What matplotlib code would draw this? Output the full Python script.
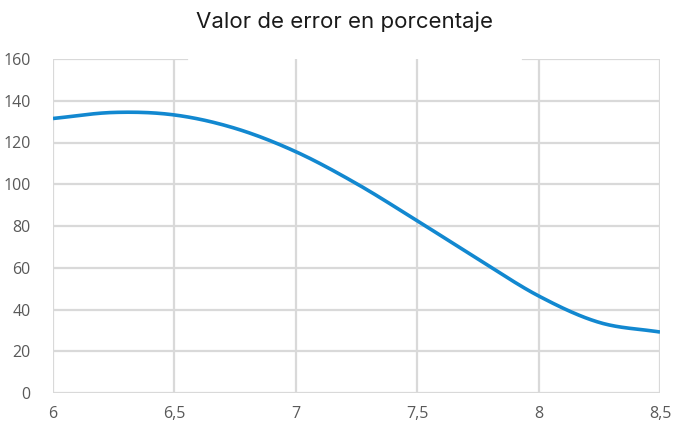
import numpy as np
import matplotlib
matplotlib.use("Agg")
import matplotlib.pyplot as plt

# Data
x_vals = [6.0, 6.25, 6.5, 6.75, 7.0, 7.25, 7.5, 7.75, 8.0, 8.25, 8.5]
y_vals = [131.5, 134.4, 133.2, 126.8, 115.6, 100.3, 82.5, 64.2, 46.5, 33.8, 29.2]
x_ticks = [6, 6.5, 7, 7.5, 8, 8.5]
x_tick_labels = ["6", "6,5", "7", "7,5", "8", "8,5"]
y_ticks = [0, 20, 40, 60, 80, 100, 120, 140, 160]
title = "Valor de error en porcentaje"


def catmull_rom(xs, ys, n=30):
    xs = np.asarray(xs, float)
    ys = np.asarray(ys, float)
    px = np.concatenate([[2 * xs[0] - xs[1]], xs, [2 * xs[-1] - xs[-2]]])
    py = np.concatenate([[2 * ys[0] - ys[1]], ys, [2 * ys[-1] - ys[-2]]])
    outx, outy = [], []
    for i in range(1, len(px) - 2):
        t = np.linspace(0, 1, n, endpoint=False)
        for p, out in ((px, outx), (py, outy)):
            p0, p1, p2, p3 = p[i - 1], p[i], p[i + 1], p[i + 2]
            out.extend(0.5 * ((2 * p1) + (-p0 + p2) * t
                              + (2 * p0 - 5 * p1 + 4 * p2 - p3) * t ** 2
                              + (-p0 + 3 * p1 - 3 * p2 + p3) * t ** 3))
    outx.append(xs[-1])
    outy.append(ys[-1])
    return np.array(outx), np.array(outy)


fig = plt.figure(figsize=(6.73, 4.25), dpi=100)
ax = fig.add_axes([53 / 673, 32 / 425, 607 / 673, 334 / 425])

ax.set_xlim(6, 8.5)
ax.set_ylim(0, 160)

grid_c = "#d9d9d9"
for xt in x_ticks:
    ax.axvline(xt, color=grid_c, lw=1.6, zorder=1)
for yt in y_ticks[:-1]:
    ax.axhline(yt, color=grid_c, lw=1.6, zorder=1)
# top gridline has a gap in the reference
ax.axhline(y_ticks[-1], xmin=0, xmax=(187 - 53) / 607, color=grid_c, lw=1.6, zorder=1)
ax.axhline(y_ticks[-1], xmin=(523 - 53) / 607, xmax=1, color=grid_c, lw=1.6, zorder=1)

sx, sy = catmull_rom(x_vals, y_vals)
ax.plot(sx, sy, color="#1288d0", lw=2.6, zorder=3, solid_capstyle="butt")

ax.set_xticks(x_ticks)
ax.set_xticklabels(x_tick_labels)
ax.set_yticks(y_ticks)
for s in ax.spines.values():
    s.set_visible(False)
ax.tick_params(length=0, colors="#595959", labelsize=11.5)
ax.tick_params(axis="y", pad=16)
ax.tick_params(axis="x", pad=9)
for lab in ax.get_xticklabels() + ax.get_yticklabels():
    lab.set_family("Open Sans")

fig.text(345 / 673, 1 - 22 / 425, title, ha="center", va="center",
         fontsize=16, color="#1a1a1a", family="Inter")

fig.savefig("out.png", dpi=100)
